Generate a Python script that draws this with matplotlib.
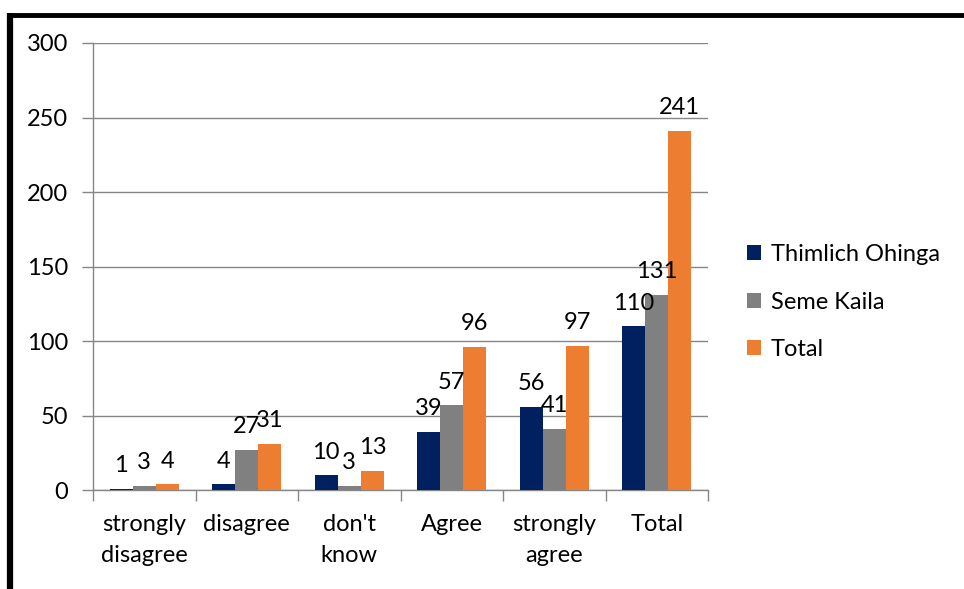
import matplotlib.pyplot as plt
import numpy as np
from matplotlib.lines import Line2D

plt.rcParams['font.family'] = ['Lato', 'DejaVu Sans']

categories = ["strongly\ndisagree", "disagree", "don't\nknow", "Agree", "strongly\nagree", "Total"]
series = ["Thimlich Ohinga", "Seme Kaila", "Total"]
thimlich = [1, 4, 10, 39, 56, 110]
seme = [3, 27, 3, 57, 41, 131]
total = [4, 31, 13, 96, 97, 241]
colors = ["#002060", "#808080", "#ED7D31"]
grid_c = "#868686"
fs = 17

fig = plt.figure(figsize=(9.64, 5.89), dpi=100)
ax = fig.add_axes([0.0965, 0.168, 0.638, 0.759])

x = np.arange(len(categories))
w = 0.225
for i, (vals, name) in enumerate(zip([thimlich, seme, total], series)):
    pos = x + (i - 1) * w
    ax.bar(pos, vals, width=w, color=colors[i], label=name, zorder=3)
    for p, v in zip(pos, vals):
        ax.annotate(str(v), (p, v), xytext=(0, 9), textcoords="offset points",
                    ha="center", va="bottom", fontsize=fs, color="black", zorder=6)

ax.set_ylim(0, 300)
ax.set_xlim(-0.5, len(categories) - 0.5)
ax.set_yticks(range(0, 301, 50))
ax.yaxis.grid(True, color=grid_c, linewidth=1, zorder=0)
ax.set_axisbelow(True)

ax.set_xticks(np.arange(-0.5, len(categories), 1))
ax.set_xticklabels([])
ax.set_xticks(x, minor=True)
ax.set_xticklabels(categories, minor=True, fontsize=fs, linespacing=1.6)
ax.tick_params(axis="x", which="major", length=8, color=grid_c, width=1)
ax.tick_params(axis="x", which="minor", length=0, pad=17)
ax.tick_params(axis="y", length=8, color=grid_c, width=1, labelsize=fs, pad=10)

for s in ["top", "right"]:
    ax.spines[s].set_visible(False)
for s in ["left", "bottom"]:
    ax.spines[s].set_color(grid_c)
    ax.spines[s].set_linewidth(1)

leg = fig.legend(loc="center left", bbox_to_anchor=(0.775, 0.487), frameon=False,
                 fontsize=fs, handlelength=0.6, handleheight=0.6, handletextpad=0.4,
                 labelspacing=1.12, borderaxespad=0, borderpad=0)

# black frame lines (top and left)
fig.add_artist(Line2D([0.0104, 1.0], [0.975, 0.975], color="black", linewidth=3.5,
                      transform=fig.transFigure, solid_capstyle="butt"))
fig.add_artist(Line2D([0.0104, 0.0104], [0.978, 0.0], color="black", linewidth=4.5,
                      transform=fig.transFigure, solid_capstyle="butt"))

fig.savefig("out.png", dpi=100)
